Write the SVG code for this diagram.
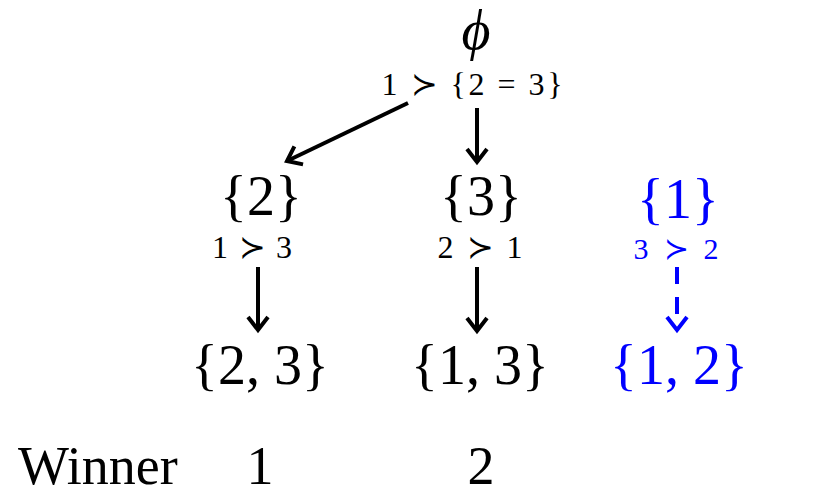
<svg xmlns="http://www.w3.org/2000/svg" width="830" height="498" viewBox="0 0 830 498">
<style>
.set{font-family:"Liberation Serif","Times New Roman",serif;font-size:56px;text-anchor:middle;fill:#000}
.pref{font-family:"Liberation Serif","DejaVu Serif",serif;font-size:32px;text-anchor:middle;fill:#000}
.lbl{font-family:"Liberation Serif","Times New Roman",serif;font-size:54px;fill:#000}
.blue{fill:#0000ff}
.edge{stroke:#000;stroke-width:4;fill:none}
.edgeb{stroke:#0000ff;stroke-width:4;fill:none;stroke-dasharray:17 13}
</style>
<defs>
<marker id="ah" markerUnits="userSpaceOnUse" markerWidth="40" markerHeight="40" viewBox="-20 -20 40 40" refX="0" refY="0" orient="auto" overflow="visible">
<path d="M-13,-10 L0,0 L-13,10" fill="none" stroke="#000" stroke-width="4"/>
</marker>
<marker id="ahb" markerUnits="userSpaceOnUse" markerWidth="40" markerHeight="40" viewBox="-20 -20 40 40" refX="0" refY="0" orient="auto" overflow="visible">
<path d="M-13,-10 L0,0 L-13,10" fill="none" stroke="#0000ff" stroke-width="4"/>
</marker>
</defs>
<g id="root">
<text x="476" y="49" class="set" style="font-style:italic">ϕ</text>
<text x="472" y="95" class="pref" textLength="181" lengthAdjust="spacing">1 ≻ {2 = 3}</text>
</g>
<g id="n2">
<text x="261" y="215" class="set">{2}</text>
<text x="252" y="258" class="pref" textLength="80" lengthAdjust="spacing">1 ≻ 3</text>
</g>
<g id="n3">
<text x="481" y="215" class="set">{3}</text>
<text x="480" y="258" class="pref" textLength="85" lengthAdjust="spacing">2 ≻ 1</text>
</g>
<g id="n1">
<text x="678" y="218" class="set blue">{1}</text>
<text x="676" y="259" class="pref blue" style="font-size:30px" textLength="85" lengthAdjust="spacing">3 ≻ 2</text>
</g>
<g id="n23">
<text x="260" y="384" class="set">{2, 3}</text>
</g>
<g id="n13">
<text x="480" y="384" class="set">{1, 3}</text>
</g>
<g id="n12">
<text x="679" y="384" class="set blue">{1, 2}</text>
</g>
<g id="winner">
<text x="18" y="484" class="lbl">Winner</text>
<text x="260" y="484" class="lbl" text-anchor="middle">1</text>
<text x="481" y="484" class="lbl" text-anchor="middle">2</text>
</g>
<g id="connectors">
<line x1="408" y1="103" x2="287" y2="161" class="edge" marker-end="url(#ah)"/>
<line x1="477" y1="108" x2="477" y2="162" class="edge" marker-end="url(#ah)"/>
<line x1="258" y1="267" x2="258" y2="330" class="edge" marker-end="url(#ah)"/>
<line x1="477" y1="267" x2="477" y2="331" class="edge" marker-end="url(#ah)"/>
<line x1="677" y1="267" x2="677" y2="330" class="edgeb" marker-end="url(#ahb)"/>
</g>
</svg>
